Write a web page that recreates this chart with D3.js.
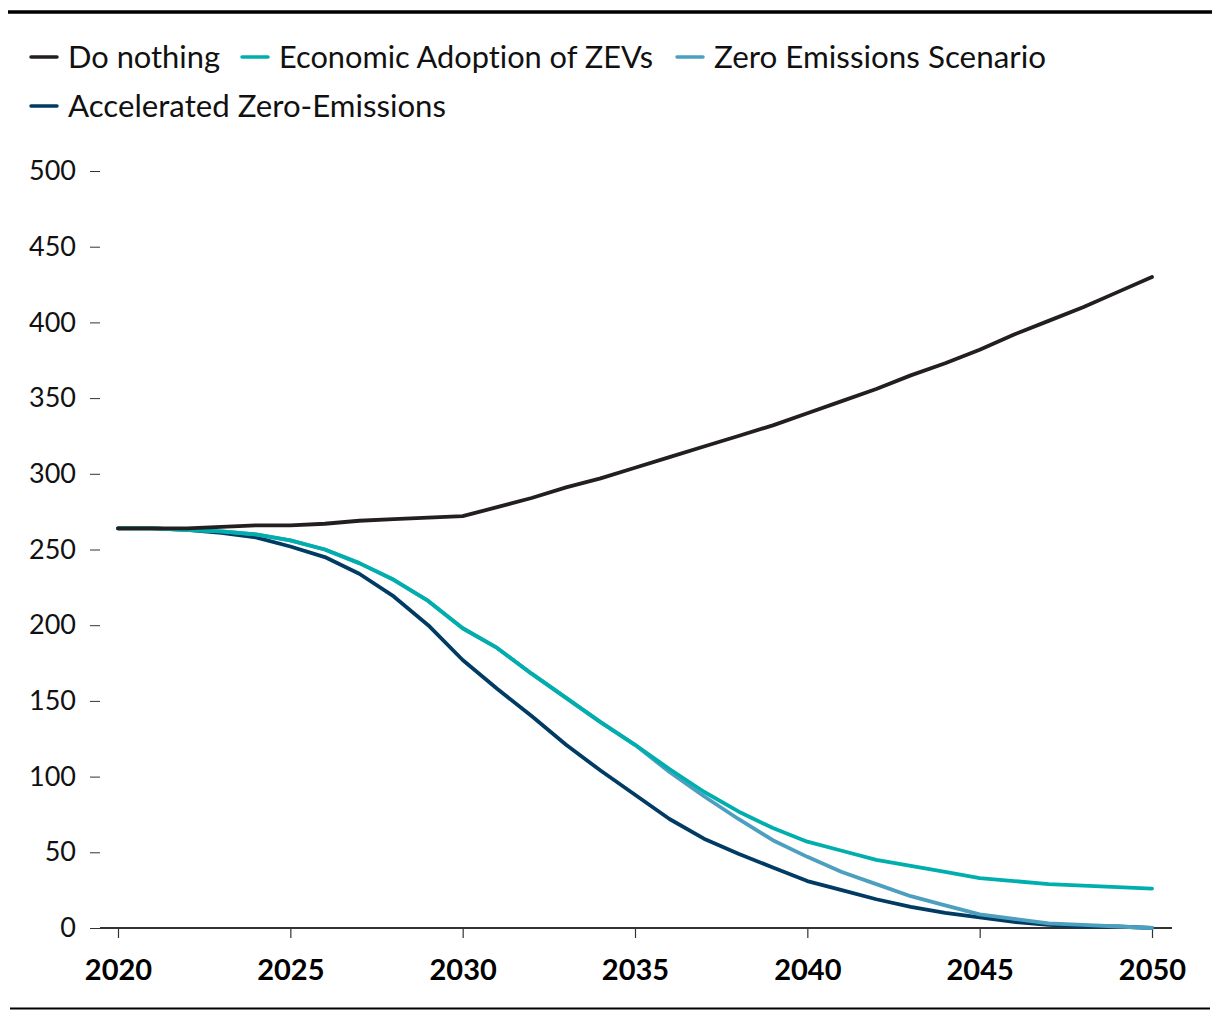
<!DOCTYPE html>
<html><head><meta charset="utf-8">
<script src="https://cdn.jsdelivr.net/npm/d3@7"></script>
<style>body{margin:0;background:#fff}svg{display:block}text{font-variant-ligatures:none;font-feature-settings:"liga" 0,"clig" 0}</style>
</head><body><svg id="c" width="1220" height="1020"></svg>
<script>
const years = d3.range(2020, 2051);
const doNothing = [264,264,264,265,266,266,267,269,270,271,272,278,284,291,297,304,311,318,325,332,340,348,356,365,373,382,392,401,410,420,430];
const economicZEV = [264,264,263,262,260,256,250,241,230,216,198,185,168,152,136,121,105,90,77,66,57,51,45,41,37,33,31,29,28,27,26];
const zeroEmissions = [264,264,263,262,260,256,250,241,230,216,198,185,168,152,136,121,103,87,72,58,47,37,29,21,15,9,6,3,2,1,0];
const accelerated = [264,264,263,261,258,252,245,234,219,200,177,158,140,121,104,88,72,59,49,40,31,25,19,14,10,7,4,2,1,1,0];
const seriesNames = ["Do nothing","Economic Adoption of ZEVs","Zero Emissions Scenario","Accelerated Zero-Emissions"];
const seriesColors = ["#231f20","#00afad","#4d9fc0","#003b63"];
const seriesValues = [doNothing, economicZEV, zeroEmissions, accelerated];
const yTicks = [0,50,100,150,200,250,300,350,400,450,500];
const xTicks = [2020,2025,2030,2035,2040,2045,2050];

const svg = d3.select("#c");
const font = "'Source Sans Pro', Lato, 'Noto Sans', sans-serif";
const x = d3.scaleLinear().domain([2020,2050]).range([118,1152]);
const y = d3.scaleLinear().domain([0,500]).range([928,171]);

// top & bottom rules
svg.append("line").attr("x1",8).attr("x2",1212).attr("y1",12).attr("y2",12).attr("stroke","#000").attr("stroke-width",3.5);
svg.append("line").attr("x1",10).attr("x2",1210).attr("y1",1008.5).attr("y2",1008.5).attr("stroke","#000").attr("stroke-width",2);

// legend
const legendPos = [[30,57],[241,57],[676,57],[30,106]];
const legendWidths = [152,374,332,378];
seriesNames.forEach((n,i)=>{
  const [lx,ly] = legendPos[i];
  const g = svg.append("g").attr("transform",`translate(${lx},${ly})`);
  g.append("line").attr("x1",1).attr("x2",27).attr("y1",0).attr("y2",0)
    .attr("stroke",seriesColors[i]).attr("stroke-width",3.5).attr("stroke-linecap","round");
  g.append("text").attr("x",38).attr("y",0).attr("dy","0.36em")
    .attr("font-family",font).attr("font-size",30).attr("fill","#111")
    .attr("textLength",legendWidths[i]).attr("lengthAdjust","spacingAndGlyphs").text(n);
});

// y axis
const yAxis = svg.append("g").attr("transform","translate(100,0)")
  .call(d3.axisLeft(y).tickValues(yTicks).tickSize(10).tickPadding(14));
yAxis.select(".domain").remove();
yAxis.selectAll(".tick line").attr("stroke","#333").attr("stroke-width",1);
yAxis.selectAll("text").attr("font-family",font).attr("font-size",27).attr("fill","#111");

// x axis
const xAxis = svg.append("g").attr("transform","translate(0,928)")
  .call(d3.axisBottom(x).tickValues(xTicks).tickFormat(d3.format("d")).tickSize(10).tickPadding(21));
xAxis.select(".domain").remove();
xAxis.selectAll(".tick line").attr("stroke","#333").attr("stroke-width",1.2);
xAxis.selectAll("text").attr("font-family",font).attr("font-size",29).attr("font-weight","bold").attr("fill","#000");
svg.append("line").attr("x1",100).attr("x2",1172).attr("y1",928).attr("y2",928).attr("stroke","#333").attr("stroke-width",1.8);

// lines
const line = d3.line().x((d,i)=>x(years[i])).y(d=>y(d));
[3,2,1,0].forEach(i=>{
  svg.append("path").datum(seriesValues[i]).attr("d",line)
    .attr("fill","none").attr("stroke",seriesColors[i]).attr("stroke-width",3.8)
    .attr("stroke-linejoin","round").attr("stroke-linecap","round");
});
</script></body></html>
